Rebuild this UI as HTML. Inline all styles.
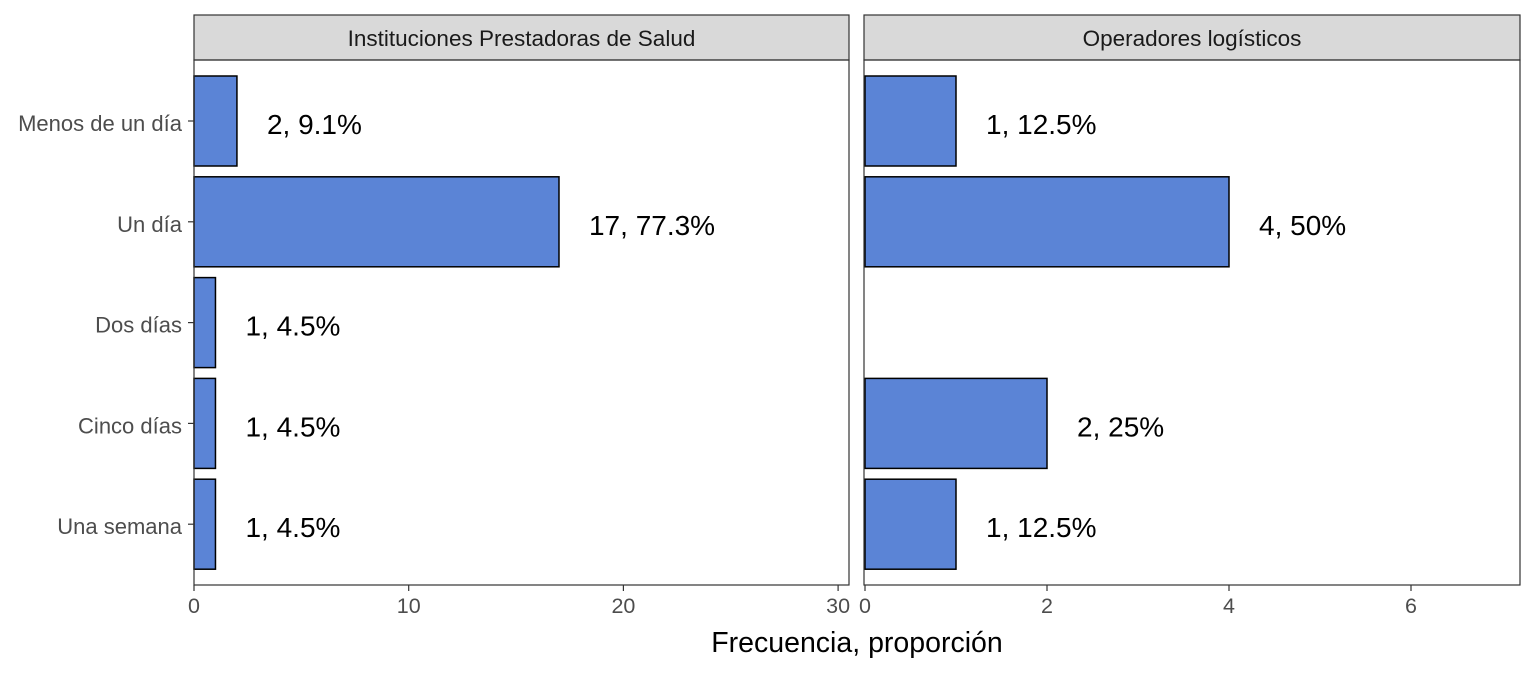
<!DOCTYPE html>
<html><head><meta charset="utf-8"><style>
body{margin:0;background:#fff;font-family:"Liberation Sans",sans-serif}
</style></head><body>
<svg width="1536" height="672" xmlns="http://www.w3.org/2000/svg" id="chart" font-family="Liberation Sans, sans-serif"></svg>
<script>
const categories=["Menos de un día","Un día","Dos días","Cinco días","Una semana"];
const ipsValues=[2,17,1,1,1];
const ipsLabels=["2, 9.1%","17, 77.3%","1, 4.5%","1, 4.5%","1, 4.5%"];
const opValues=[1,4,0,2,1];
const opLabels=["1, 12.5%","4, 50%","","2, 25%","1, 12.5%"];
const ipsTicks=[0,10,20,30];
const opTicks=[0,2,4,6];
const panelTitles=["Instituciones Prestadoras de Salud","Operadores logísticos"];
const NS="http://www.w3.org/2000/svg";
const svg=document.getElementById('chart');
function el(tag,attrs,parent){const e=document.createElementNS(NS,tag);for(const k in attrs)e.setAttribute(k,attrs[k]);(parent||svg).appendChild(e);return e;}
const plotTop=60,plotBottom=585;
const yC=i=>121+i*100.8;
const barH=90;
const panels=[
 {x0:194,x1:849,scale:v=>194+v*21.47,vals:ipsValues,labs:ipsLabels,ticks:ipsTicks,name:"ips"},
 {x0:864,x1:1520,scale:v=>865+v*91,vals:opValues,labs:opLabels,ticks:opTicks,name:"operadores"}
];
panels.forEach((p,pi)=>{
 const g=el('g',{});
 
 
 const strip=el('rect',{x:p.x0,y:15,width:p.x1-p.x0,height:45,fill:'#d9d9d9',stroke:'#333','stroke-width':1.2},g);
 
 
 const st=el('text',{x:(p.x0+p.x1)/2,y:46,'text-anchor':'middle','font-size':22.5,fill:'#1a1a1a'},g);
 st.textContent=panelTitles[pi];
 
 
 p.vals.forEach((v,i)=>{
  if(v>0){
   const b=el('rect',{x:p.scale(0),y:yC(i)-barH/2,width:p.scale(v)-p.scale(0),height:barH,fill:'#5b84d6',stroke:'#000','stroke-width':1.5},g);
   
   
  }
  if(p.labs[i]){
   const t=el('text',{x:p.scale(v)+30,y:yC(i)+13,'font-size':28,fill:'#000'},g);
   t.textContent=p.labs[i];
   
   
  }
 });
 const fr=el('rect',{x:p.x0,y:plotTop,width:p.x1-p.x0,height:plotBottom-plotTop,fill:'none',stroke:'#333','stroke-width':1.2},g);
 
 
 p.ticks.forEach(tk=>{
  const x=p.scale(tk);
  el('line',{x1:x,x2:x,y1:plotBottom,y2:plotBottom+6,stroke:'#333','stroke-width':1.2},g);
  const t=el('text',{x:x,y:plotBottom+28,'text-anchor':'middle','font-size':21.5,fill:'#4d4d4d'},g);
  t.textContent=tk;
  
  
 });
});
categories.forEach((c,i)=>{
 el('line',{x1:188,x2:194,y1:yC(i),y2:yC(i),stroke:'#333','stroke-width':1.2});
 const t=el('text',{x:182,y:yC(i)+10,'text-anchor':'end','font-size':22,fill:'#4d4d4d'});
 t.textContent=c;
 
 
});
const xt=el('text',{x:857,y:652,'text-anchor':'middle','font-size':28.5,fill:'#000'});
xt.textContent="Frecuencia, proporción";


</script>
</body></html>
